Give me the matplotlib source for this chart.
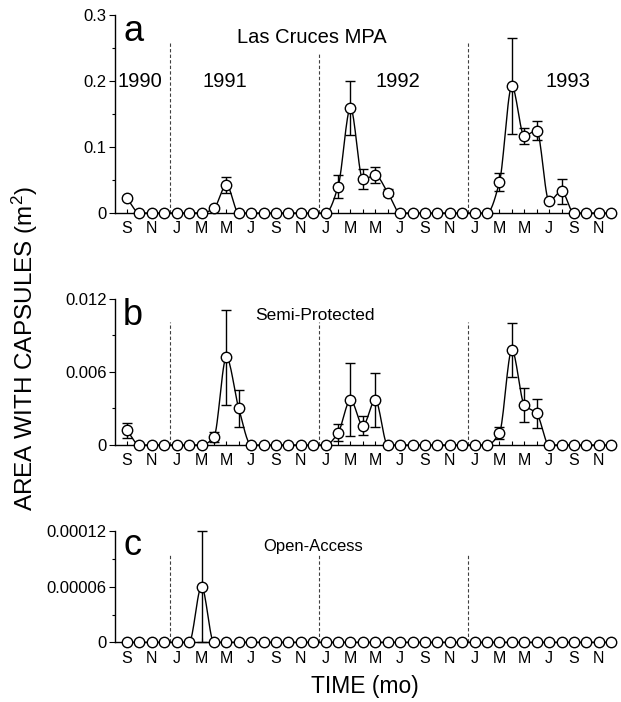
import matplotlib
matplotlib.use("Agg")
import matplotlib.pyplot as plt
import numpy as np

plt.rcParams['font.family'] = ['Liberation Sans', 'DejaVu Sans']
plt.rcParams['mathtext.fontset'] = 'custom'
plt.rcParams['mathtext.rm'] = 'Liberation Sans'
plt.rcParams['mathtext.it'] = 'Liberation Sans'

# monthly samples, Sep 1990 .. Dec 1993 (40 months)
month_labels = ['S', 'N', 'J', 'M', 'M', 'J', 'S', 'N', 'J', 'M',
                'M', 'J', 'S', 'N', 'J', 'M', 'M', 'J', 'S', 'N']
years = ['1990', '1991', '1992', '1993']

las_cruces = [0.022, 0, 0, 0, 0, 0, 0, 0.007, 0.043, 0,
              0, 0, 0, 0, 0, 0, 0, 0.040, 0.159, 0.051,
              0.057, 0.031, 0, 0, 0, 0, 0, 0, 0, 0,
              0.047, 0.192, 0.117, 0.125, 0.018, 0.033, 0, 0, 0, 0]
las_cruces_err = [0.003, 0, 0, 0, 0, 0, 0, 0, 0.012, 0,
                  0, 0, 0, 0, 0, 0, 0, 0.018, 0.041, 0.015,
                  0.012, 0.006, 0, 0, 0, 0, 0, 0, 0, 0,
                  0.013, 0.073, 0.012, 0.015, 0, 0.019, 0, 0, 0, 0]

semi = [0.0012, 0, 0, 0, 0, 0, 0, 0.00065, 0.0072, 0.0030,
        0, 0, 0, 0, 0, 0, 0, 0.0010, 0.0037, 0.0016,
        0.0037, 0, 0, 0, 0, 0, 0, 0, 0, 0,
        0.0010, 0.0078, 0.0033, 0.0026, 0, 0, 0, 0, 0, 0]
semi_err = [0.0006, 0, 0, 0, 0, 0, 0, 0.0004, 0.0039, 0.0015,
            0, 0, 0, 0, 0, 0, 0, 0.0007, 0.0030, 0.0008,
            0.0022, 0, 0, 0, 0, 0, 0, 0, 0, 0,
            0.0005, 0.0022, 0.0014, 0.0012, 0, 0, 0, 0, 0, 0]

open_access = [0, 0, 0, 0, 0, 0, 0.00006, 0, 0, 0,
               0, 0, 0, 0, 0, 0, 0, 0, 0, 0,
               0, 0, 0, 0, 0, 0, 0, 0, 0, 0,
               0, 0, 0, 0, 0, 0, 0, 0, 0, 0]
open_access_err = [0, 0, 0, 0, 0, 0, 0.00006, 0, 0, 0,
                   0, 0, 0, 0, 0, 0, 0, 0, 0, 0,
                   0, 0, 0, 0, 0, 0, 0, 0, 0, 0,
                   0, 0, 0, 0, 0, 0, 0, 0, 0, 0]


def smooth(x, y, n=16):
    # monotone cubic (pchip-like) curve through the points, for drawing only
    x = np.asarray(x, float)
    y = np.asarray(y, float)
    h = np.diff(x)
    d = np.diff(y) / h
    m = np.zeros_like(y)
    for k in range(1, len(y) - 1):
        if d[k - 1] * d[k] > 0:
            w1 = 2 * h[k] + h[k - 1]
            w2 = h[k] + 2 * h[k - 1]
            m[k] = (w1 + w2) / (w1 / d[k - 1] + w2 / d[k])
    m[0], m[-1] = d[0], d[-1]
    xs, ys = [], []
    t = np.linspace(0, 1, n, endpoint=False)
    for k in range(len(x) - 1):
        h00 = 2 * t**3 - 3 * t**2 + 1
        h10 = t**3 - 2 * t**2 + t
        h01 = -2 * t**3 + 3 * t**2
        h11 = t**3 - t**2
        xs.append(x[k] + t * h[k])
        ys.append(h00 * y[k] + h10 * h[k] * m[k] + h01 * y[k + 1] + h11 * h[k] * m[k + 1])
    xs.append([x[-1]])
    ys.append([y[-1]])
    return np.concatenate(xs), np.concatenate(ys)


fig = plt.figure(figsize=(6.21, 7.02), dpi=100)

panels = [
    (las_cruces, las_cruces_err, [0.6966, 0.282], 0.3, [0, 0.1, 0.2, 0.3], ['0', '0.1', '0.2', '0.3'],
     'a', 'Las Cruces MPA', [0.2575, 0.242, 0.259], (0.870, 0.860, 0.244), 14.5),
    (semi, semi_err, [0.3661, 0.208], 0.012, [0, 0.006, 0.012], ['0', '0.006', '0.012'],
     'b', 'Semi-Protected', [0.0101] * 3, (0.822, 0.856, 0.28), 12.5),
    (open_access, open_access_err, [0.085, 0.1585], 0.00012, [0, 0.00006, 0.00012], ['0', '0.00006', '0.00012'],
     'c', 'Open-Access', [0.000094] * 3, (0.784, 0.82, 0.296), 12),
]

for vals, errs, (bot, hgt), ymax, yt, ytl, letter, title, dash_tops, tpos, tsize in panels:
    ax = fig.add_axes([0.1852, bot, 0.805, hgt])
    x = np.arange(len(vals))
    vals = np.array(vals)
    errs = np.array(errs)

    xs, ys = smooth(x, vals)
    ax.plot(xs, ys, color='black', lw=1.0, zorder=2, clip_on=False)
    has = errs > 0
    ax.errorbar(x[has], vals[has], yerr=errs[has], fmt='none', ecolor='black',
                elinewidth=1.0, capsize=3.5, capthick=1.0, zorder=2, clip_on=False)
    ax.plot(x, vals, 'o', ms=7.5, mfc='white', mec='black', mew=1.0, zorder=3, clip_on=False)

    for xd, top in zip([3.5, 15.5, 27.5], dash_tops):
        ax.plot([xd, xd], [0, top], ls=(0, (3, 2)), color='0.25', lw=0.8, zorder=1)

    ax.set_xlim(-0.97, 39.3)
    ax.set_ylim(0, ymax)
    ax.set_yticks(yt)
    ax.set_yticklabels(ytl)
    ax.set_yticks([v + yt[1] / 2 for v in yt[:-1]], minor=True)
    ax.set_xticks(x[::2])
    ax.set_xticklabels(month_labels)
    ax.set_xticks(x, minor=True)
    ax.tick_params(axis='x', which='both', direction='in', length=3, width=0.8,
                   labelsize=11.5, pad=6)
    ax.tick_params(axis='y', which='major', direction='out', length=4, width=0.8,
                   labelsize=12, pad=2)
    ax.tick_params(axis='y', which='minor', direction='out', length=2.5, width=0.8)
    for s in ['top', 'right']:
        ax.spines[s].set_visible(False)
    for s in ['left', 'bottom']:
        ax.spines[s].set_linewidth(1.0)

    ax.text(0.016, tpos[0], letter, transform=ax.transAxes, fontsize=26,
            ha='left', va='baseline')
    ax.text(tpos[2], tpos[1], title, transform=ax.transAxes, fontsize=tsize,
            ha='left', va='baseline')

    if letter == 'a':
        for yr, xc in zip(years, [1.05, 7.9, 21.8, 35.5]):
            ax.text(xc, 0.635, yr, transform=ax.get_xaxis_transform(), fontsize=14.5,
                    ha='center', va='baseline')

fig.text(0.040, 0.503, 'AREA WITH CAPSULES (m$^2$)', rotation=90, fontsize=17.5,
         ha='center', va='center')
fig.text(0.588, 0.0214, 'TIME (mo)', fontsize=16.5, ha='center', va='center')

fig.savefig('out.png', dpi=100)
